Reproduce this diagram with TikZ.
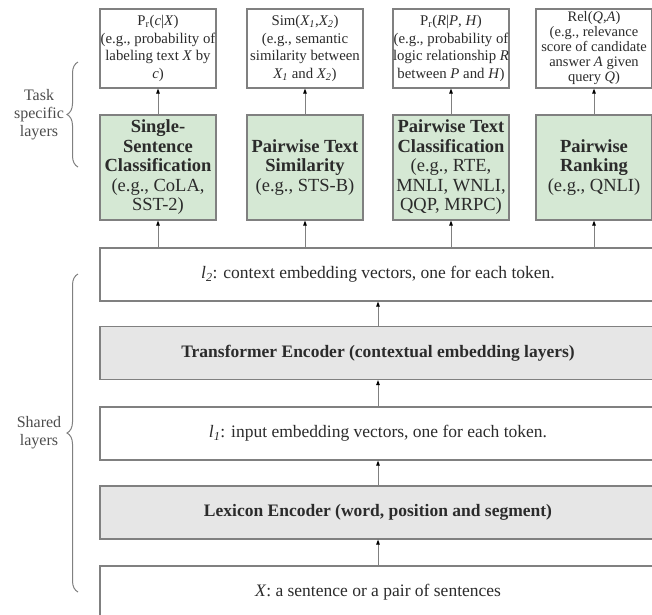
\documentclass[tikz,border=0pt]{standalone}
\usepackage{fontspec}
\setmainfont{Liberation Serif}
\usepackage{xcolor}
\usetikzlibrary{arrows.meta, positioning, decorations.pathreplacing}
\definecolor{boxgreen}{HTML}{D5E8D4}
\definecolor{boxgray}{HTML}{E6E6E6}
\definecolor{edgegray}{HTML}{808080}
\definecolor{txtgray}{HTML}{2B2B2B}

\begin{document}
\begin{tikzpicture}[x=1pt,y=-1pt]
\tikzset{
  outbox/.style={rectangle,draw=edgegray,line width=1.1pt,fill=white,minimum width=116pt,minimum height=79pt,inner sep=0pt,align=center,font=\fontsize{14.8}{17.5}\selectfont,text=txtgray},
  taskbox/.style={rectangle,draw=edgegray,line width=1.1pt,fill=boxgreen,minimum width=116pt,minimum height=105pt,inner sep=0pt,align=center,font=\fontsize{18.5}{19.5}\selectfont,text=txtgray},
  layerbox/.style={rectangle,draw=edgegray,line width=1.1pt,fill=white,minimum width=556pt,minimum height=53pt,inner sep=0pt,align=center,font=\fontsize{17.5}{20}\selectfont,text=txtgray},
  encbox/.style={layerbox,fill=boxgray},
  ar/.style={-{Triangle[length=5pt,width=3.5pt,color=black]},line width=1pt,draw=edgegray},
  brc/.style={decorate,decoration={brace,amplitude=11pt},draw=edgegray,line width=1pt},
  lbl/.style={align=center,font=\fontsize{16}{18}\selectfont,text=black!70}
}
\useasboundingbox (0,0) rectangle (652,614);
% task outputs
\node[outbox] (o1) at (158,48.5) {P\textsubscript{r}(\textit{c}|\textit{X})\\(e.g., probability of\\labeling text \textit{X} by\\\textit{c})};
\node[outbox] (o2) at (305,48.5) {Sim(\textit{X\textsubscript{1}},\textit{X\textsubscript{2}})\\(e.g., semantic\\similarity between\\\textit{X\textsubscript{1}} and \textit{X\textsubscript{2}})};
\node[outbox] (o3) at (451,48.5) {P\textsubscript{r}(\textit{R}|\textit{P}, \textit{H})\\(e.g., probability of\\logic relationship \textit{R}\\between \textit{P} and \textit{H})};
\node[outbox,font=\fontsize{14.5}{15}\selectfont] (o4) at (594,48.5) {Rel(\textit{Q},\textit{A})\\(e.g., relevance\\score of candidate\\answer \textit{A} given\\query \textit{Q})};
% task specific layers
\node[taskbox] (g1) at (158,167.5) {\textbf{Single-}\\\textbf{Sentence}\\\textbf{Classification}\\(e.g., CoLA,\\SST-2)};
\node[taskbox] (g2) at (305,167.5) {\textbf{Pairwise Text}\\\textbf{Similarity}\\(e.g., STS-B)};
\node[taskbox] (g3) at (451,167.5) {\textbf{Pairwise Text}\\\textbf{Classification}\\(e.g., RTE,\\MNLI, WNLI,\\QQP, MRPC)};
\node[taskbox] (g4) at (594,167.5) {\textbf{Pairwise}\\\textbf{Ranking}\\(e.g., QNLI)};
% shared layers
\node[layerbox] (l2) at (378,274.5) {\textit{l}\textsubscript{\textit{2}}: context embedding vectors, one for each token.};
\node[encbox] (tf) at (378,353) {\textbf{Transformer Encoder (contextual embedding layers)}};
\node[layerbox] (l1) at (378,433.5) {\textit{l}\textsubscript{\textit{1}}: input embedding vectors, one for each token.};
\node[encbox] (lx) at (378,512.5) {\textbf{Lexicon Encoder (word, position and segment)}};
\node[layerbox] (in) at (378,592.5) {\textit{X}: a sentence or a pair of sentences};
\draw[ar] (g1.north) -- (o1.south); \draw[ar] (g2.north) -- (o2.south);
\draw[ar] (g3.north) -- (o3.south); \draw[ar] (g4.north) -- (o4.south);
\draw[ar] (l2.north -| g1.south) -- (g1.south); \draw[ar] (l2.north -| g2.south) -- (g2.south);
\draw[ar] (l2.north -| g3.south) -- (g3.south); \draw[ar] (l2.north -| g4.south) -- (g4.south);
\draw[ar] (tf) -- (l2); \draw[ar] (l1) -- (tf);
\draw[ar] (lx) -- (l1); \draw[ar] (in) -- (lx);
% braces
\draw[brc] (78,167) -- (78,62);
\node[lbl] (task) at (39,115) {Task\\specific\\layers};
\draw[brc] (78,592) -- (78,274);
\node[lbl] (shared) at (39,433) {Shared\\layers};
\end{tikzpicture}
\end{document}
